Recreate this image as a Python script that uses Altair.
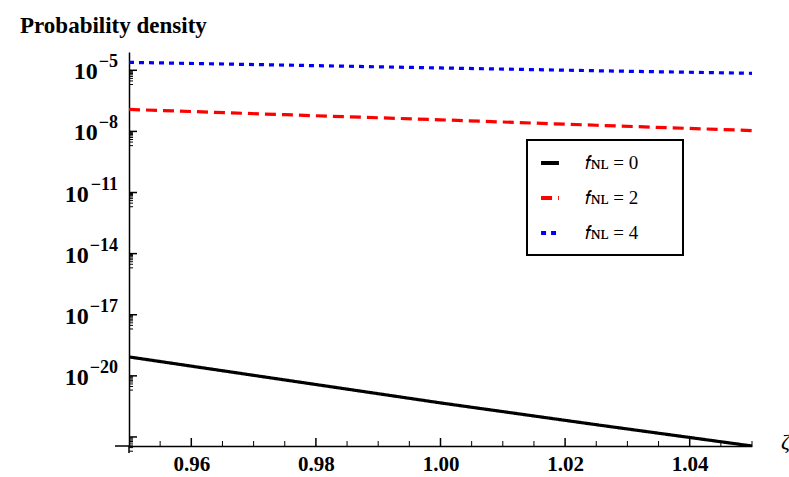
import altair as alt
import pandas as pd

# ---- data ----
zeta = [0.95, 0.975, 1.0, 1.025, 1.05]
p_fnl0 = [8.5e-20, 6.3e-21, 4.7e-22, 4.0e-23, 3.6e-24]
p_fnl2 = [1.2e-7, 6.6e-8, 3.7e-8, 2.0e-8, 1.1e-8]
p_fnl4 = [2.45e-5, 1.8e-5, 1.3e-5, 9.5e-6, 7.1e-6]
series_names = ["𝑓ɴʟ = 0", "𝑓ɴʟ = 2", "𝑓ɴʟ = 4"]
series_colors = ["#000000", "#ff0000", "#0000ff"]
series_dashes = [[1, 0], [11, 6], [5, 5]]

y_major_exp = [-5, -8, -11, -14, -17, -20, -23]
y_labeled_exp = [-5, -8, -11, -14, -17, -20]
y_minor_mult = [2, 3, 4, 5, 6, 7, 8, 9]
x_major_ticks = [0.96, 0.98, 1.00, 1.02, 1.04]
x_minor_ticks = [0.955, 0.965, 0.97, 0.975, 0.985, 0.99, 0.995, 1.005, 1.01,
                 1.015, 1.025, 1.03, 1.035, 1.045, 1.05]
y_domain = [3.6e-24, 7.9e-5]

W, H = 623, 394
FONT = "Liberation Serif"
PAD = "\u2003\u2002\u2009\u200b"

rows = []
for name, vals in zip(series_names, [p_fnl0, p_fnl2, p_fnl4]):
    for z, v in zip(zeta, vals):
        rows.append({"zeta": z, "p": v, "series": name + PAD})
df = pd.DataFrame(rows)
legend_names = [n + PAD for n in series_names]

xscale = alt.Scale(domain=[0.95, 1.05], nice=False, zero=False)
yscale = alt.Scale(type="log", domain=y_domain, nice=False)

lines = alt.Chart(df).mark_line(strokeWidth=3.2, clip=True).encode(
    x=alt.X("zeta:Q", scale=xscale,
            axis=alt.Axis(values=x_major_ticks, format=".2f", title=None,
                          ticks=False, grid=False, labelFont=FONT,
                          labelFontWeight="bold", labelFontSize=21,
                          labelPadding=7, domainColor="black", domainWidth=1.5,
                          labelColor="black")),
    y=alt.Y("p:Q", scale=yscale,
            axis=alt.Axis(labels=False, title=None, ticks=False, grid=False,
                          domainColor="black", domainWidth=1.5)),
    color=alt.Color("series:N", sort=legend_names,
                    scale=alt.Scale(domain=legend_names, range=series_colors),
                    legend=alt.Legend(title=None)),
    strokeDash=alt.StrokeDash("series:N", sort=legend_names,
                              scale=alt.Scale(domain=legend_names,
                                              range=series_dashes),
                              legend=alt.Legend(title=None)),
)

# y tick labels as base "10" plus raised exponent
lab = pd.DataFrame({
    "v": [10.0 ** e for e in y_labeled_exp],
    "e": ["\u2212" + str(-e) for e in y_labeled_exp],
})
exp_text = alt.Chart(lab).mark_text(
    font=FONT, fontSize=18, fontWeight="bold", align="right",
    baseline="alphabetic", dy=-3, color="black").encode(
    y=alt.Y("v:Q", scale=yscale), x=alt.value(-11), text="e:N")
base_text = alt.Chart(lab).transform_calculate(
    bx="-12 - (10.2 + 9 * (length(datum.e) - 1))"
).mark_text(
    font=FONT, fontSize=24, fontWeight="bold", align="right",
    baseline="alphabetic", dy=9, color="black").encode(
    y=alt.Y("v:Q", scale=yscale), x=alt.X("bx:Q", scale=None),
    text=alt.value("10"))

# inward y ticks (major + minor)
ymaj = pd.DataFrame({"v": [10.0 ** e for e in y_major_exp]})
ymin = pd.DataFrame({"v": [m * 10.0 ** (e - 1) for e in y_major_exp
                           for m in y_minor_mult]})
ytick_major = alt.Chart(ymaj).mark_rule(color="black", strokeWidth=1.5).encode(
    y=alt.Y("v:Q", scale=yscale), x=alt.value(0), x2=alt.value(8))
ytick_minor = alt.Chart(ymin).mark_rule(color="black", strokeWidth=1).encode(
    y=alt.Y("v:Q", scale=yscale), x=alt.value(0), x2=alt.value(4))

xmaj = pd.DataFrame({"v": x_major_ticks})
xmin = pd.DataFrame({"v": x_minor_ticks})
xtick_major = alt.Chart(xmaj).mark_rule(color="black", strokeWidth=1.5).encode(
    x=alt.X("v:Q", scale=xscale), y=alt.value(H), y2=alt.value(H - 8))
xtick_minor = alt.Chart(xmin).mark_rule(color="black", strokeWidth=1).encode(
    x=alt.X("v:Q", scale=xscale), y=alt.value(H), y2=alt.value(H - 5))

# axis overhangs (Mathematica style crossing axes)
xover = alt.Chart(pd.DataFrame({"a": [0]})).mark_rule(
    color="black", strokeWidth=1.5).encode(
    x=alt.value(-14), x2=alt.value(0), y=alt.value(H))
yover = alt.Chart(pd.DataFrame({"a": [0]})).mark_rule(
    color="black", strokeWidth=1.5).encode(
    x=alt.value(0), y=alt.value(H), y2=alt.value(H + 7))

zlabel = alt.Chart(pd.DataFrame({"t": ["ζ"]})).mark_text(
    font=FONT, fontSize=22, fontStyle="italic", align="left",
    baseline="middle").encode(
    text="t:N", x=alt.value(W + 29), y=alt.value(H - 4))

chart = alt.layer(
    lines, exp_text, base_text, ytick_major, ytick_minor, xtick_major,
    xtick_minor, xover, yover, zlabel
).properties(
    width=W, height=H,
    autosize=alt.AutoSizeParams(type="none"),
    padding={"left": 129, "top": 52, "right": 37, "bottom": 31},
    title=alt.Title("Probability density", anchor="start", frame="group",
                    dx=-109, offset=14, font=FONT, fontSize=23,
                    fontWeight="bold", color="black"),
).resolve_scale(
    x="shared", y="shared"
).configure_view(
    stroke=None
).configure_legend(
    orient="none", legendX=398, legendY=88, strokeColor="black",
    strokeWidth=2, fillColor="white", padding=12, labelFont=FONT,
    labelFontSize=19, labelColor="black", symbolType="stroke",
    symbolStrokeWidth=4, symbolSize=320, rowPadding=14, labelOffset=24,
    labelLimit=250
)

chart.save("out.html", embed_options={"renderer": "svg", "actions": False})
